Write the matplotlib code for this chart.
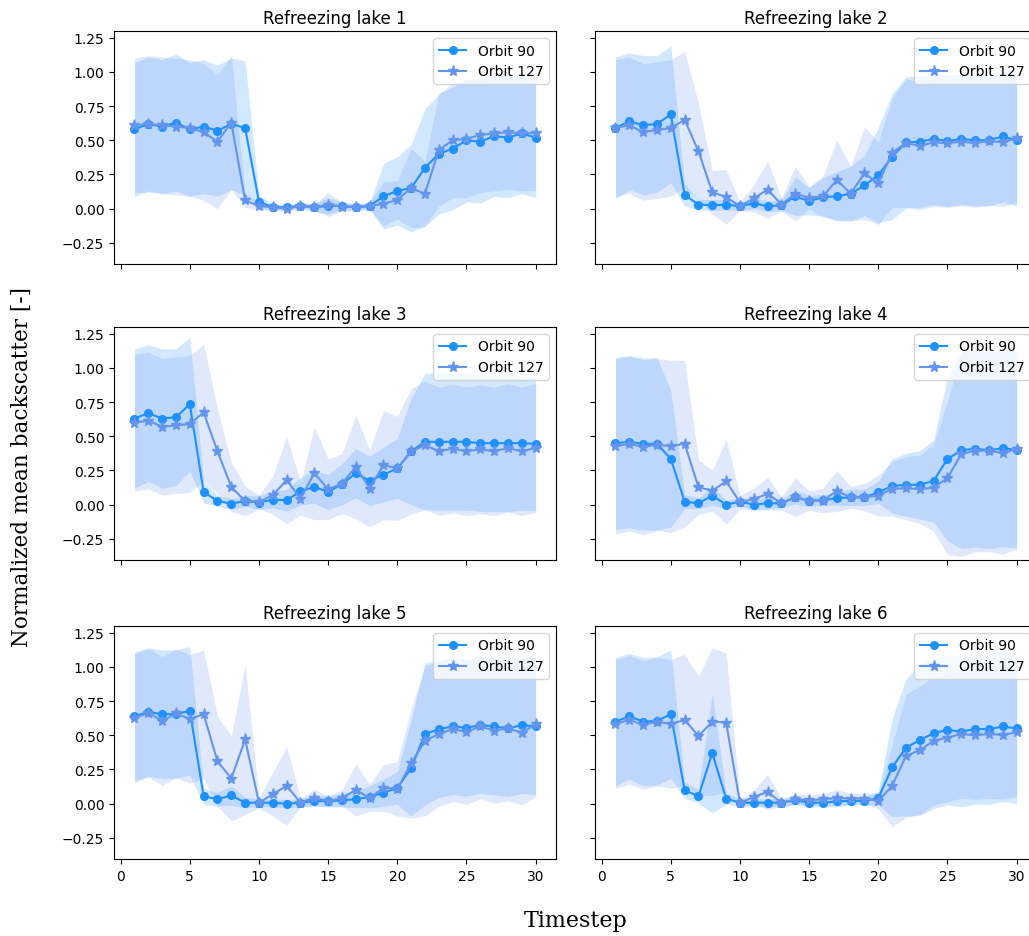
import matplotlib
matplotlib.use("Agg")
import matplotlib.pyplot as plt
import numpy as np

timesteps = list(range(1, 31))
titles = ["Refreezing lake 1", "Refreezing lake 2", "Refreezing lake 3",
          "Refreezing lake 4", "Refreezing lake 5", "Refreezing lake 6"]
series_labels = ["Orbit 90", "Orbit 127"]

# Lake 1
m90_1 = [0.58,0.62,0.60,0.63,0.58,0.60,0.57,0.62,0.59,0.05,0.01,0.01,0.02,0.01,0.02,0.02,0.01,0.02,0.09,0.13,0.15,0.30,0.40,0.44,0.50,0.49,0.53,0.52,0.55,0.52]
s90_1 = [0.49,0.49,0.49,0.50,0.49,0.49,0.48,0.48,0.49,0.05,0.02,0.02,0.02,0.03,0.06,0.03,0.02,0.02,0.24,0.25,0.32,0.43,0.44,0.45,0.45,0.45,0.44,0.44,0.44,0.44]
m127_1 = [0.61,0.62,0.61,0.60,0.59,0.56,0.49,0.63,0.06,0.02,0.01,0.00,0.02,0.01,0.03,0.015,0.01,0.02,0.035,0.065,0.15,0.11,0.43,0.50,0.51,0.54,0.55,0.56,0.55,0.555]
s127_1 = [0.49,0.50,0.50,0.50,0.50,0.50,0.49,0.49,0.05,0.03,0.02,0.02,0.02,0.02,0.09,0.03,0.03,0.03,0.16,0.14,0.29,0.24,0.41,0.42,0.43,0.42,0.42,0.42,0.42,0.42]

# Lake 2
m90_2 = [0.59,0.64,0.61,0.62,0.69,0.10,0.03,0.025,0.03,0.017,0.04,0.017,0.025,0.09,0.055,0.085,0.09,0.11,0.17,0.245,0.38,0.485,0.49,0.51,0.495,0.51,0.50,0.50,0.53,0.50]
s90_2 = [0.52,0.50,0.51,0.50,0.50,0.08,0.04,0.04,0.04,0.03,0.04,0.04,0.04,0.14,0.10,0.14,0.18,0.20,0.22,0.35,0.46,0.48,0.48,0.48,0.48,0.48,0.48,0.48,0.48,0.48]
m127_2 = [0.59,0.61,0.56,0.575,0.59,0.65,0.42,0.12,0.085,0.017,0.075,0.14,0.03,0.11,0.08,0.09,0.21,0.11,0.26,0.185,0.41,0.48,0.46,0.485,0.48,0.49,0.48,0.495,0.485,0.515]
s127_2 = [0.50,0.50,0.50,0.50,0.50,0.50,0.35,0.16,0.20,0.03,0.10,0.21,0.05,0.20,0.08,0.15,0.29,0.20,0.34,0.30,0.40,0.47,0.47,0.47,0.47,0.47,0.47,0.47,0.47,0.47]

# Lake 3
m90_3 = [0.63,0.67,0.63,0.64,0.735,0.093,0.027,0.007,0.027,0.015,0.037,0.032,0.098,0.13,0.093,0.15,0.23,0.174,0.22,0.265,0.39,0.46,0.46,0.46,0.46,0.45,0.45,0.45,0.45,0.445]
s90_3 = [0.51,0.50,0.51,0.50,0.49,0.08,0.04,0.04,0.04,0.05,0.06,0.08,0.10,0.12,0.13,0.15,0.18,0.18,0.20,0.22,0.39,0.50,0.50,0.50,0.50,0.50,0.50,0.50,0.49,0.49]
m127_3 = [0.60,0.615,0.57,0.58,0.59,0.675,0.39,0.13,0.027,0.02,0.07,0.18,0.044,0.23,0.113,0.154,0.277,0.118,0.29,0.265,0.39,0.436,0.39,0.41,0.39,0.405,0.39,0.415,0.39,0.415]
s127_3 = [0.50,0.50,0.50,0.50,0.50,0.50,0.31,0.18,0.11,0.05,0.14,0.32,0.12,0.34,0.22,0.22,0.38,0.28,0.40,0.38,0.46,0.47,0.47,0.47,0.47,0.47,0.47,0.47,0.47,0.47]

# Lake 4
m90_4 = [0.45,0.46,0.445,0.445,0.335,0.022,0.01,0.066,0.0,0.022,0.0,0.01,0.01,0.054,0.027,0.034,0.047,0.054,0.054,0.09,0.137,0.145,0.145,0.174,0.335,0.397,0.41,0.397,0.414,0.40]
s90_4 = [0.63,0.63,0.63,0.63,0.50,0.05,0.04,0.07,0.03,0.03,0.04,0.04,0.03,0.05,0.04,0.04,0.05,0.06,0.06,0.08,0.20,0.23,0.25,0.30,0.60,0.72,0.72,0.72,0.72,0.72]
m127_4 = [0.426,0.446,0.42,0.44,0.426,0.446,0.127,0.103,0.17,0.017,0.042,0.078,0.01,0.054,0.03,0.03,0.10,0.054,0.054,0.066,0.115,0.12,0.113,0.125,0.194,0.37,0.395,0.395,0.377,0.407]
s127_4 = [0.64,0.64,0.64,0.63,0.63,0.61,0.20,0.15,0.31,0.05,0.08,0.12,0.05,0.14,0.07,0.09,0.15,0.08,0.10,0.15,0.20,0.23,0.25,0.32,0.56,0.75,0.74,0.74,0.74,0.73]

# Lake 5
m90_5 = [0.64,0.67,0.655,0.655,0.68,0.054,0.032,0.06,0.007,0.007,0.007,0.0,0.007,0.02,0.017,0.025,0.032,0.05,0.08,0.115,0.26,0.51,0.545,0.565,0.555,0.575,0.565,0.55,0.575,0.565]
s90_5 = [0.47,0.47,0.47,0.47,0.47,0.06,0.05,0.07,0.04,0.03,0.03,0.03,0.03,0.04,0.04,0.05,0.06,0.08,0.10,0.12,0.35,0.52,0.50,0.50,0.50,0.50,0.50,0.50,0.50,0.50]
m127_5 = [0.625,0.665,0.605,0.66,0.62,0.655,0.31,0.184,0.47,0.007,0.07,0.13,0.007,0.045,0.017,0.042,0.10,0.042,0.115,0.11,0.294,0.46,0.51,0.545,0.525,0.565,0.535,0.55,0.52,0.58]
s127_5 = [0.47,0.47,0.47,0.47,0.47,0.47,0.33,0.31,0.55,0.04,0.16,0.29,0.03,0.06,0.04,0.06,0.19,0.10,0.17,0.20,0.40,0.55,0.53,0.53,0.53,0.53,0.53,0.53,0.53,0.53]

# Lake 6
m90_6 = [0.60,0.64,0.60,0.605,0.655,0.098,0.054,0.37,0.037,0.007,0.007,0.007,0.007,0.025,0.007,0.007,0.017,0.02,0.02,0.04,0.265,0.41,0.465,0.515,0.54,0.527,0.547,0.545,0.565,0.55]
s90_6 = [0.47,0.46,0.47,0.47,0.47,0.06,0.05,0.44,0.04,0.03,0.03,0.03,0.03,0.03,0.03,0.03,0.04,0.03,0.03,0.05,0.36,0.50,0.55,0.55,0.55,0.55,0.55,0.55,0.55,0.55]
m127_6 = [0.583,0.613,0.576,0.60,0.583,0.613,0.495,0.60,0.593,0.005,0.05,0.086,0.007,0.032,0.025,0.032,0.042,0.037,0.037,0.02,0.13,0.35,0.39,0.46,0.483,0.51,0.50,0.51,0.503,0.522]
s127_6 = [0.47,0.47,0.47,0.47,0.47,0.48,0.44,0.54,0.51,0.03,0.05,0.13,0.03,0.04,0.04,0.04,0.06,0.04,0.04,0.06,0.30,0.45,0.47,0.47,0.47,0.47,0.47,0.47,0.47,0.47]

lakes = [
    (m90_1, s90_1, m127_1, s127_1),
    (m90_2, s90_2, m127_2, s127_2),
    (m90_3, s90_3, m127_3, s127_3),
    (m90_4, s90_4, m127_4, s127_4),
    (m90_5, s90_5, m127_5, s127_5),
    (m90_6, s90_6, m127_6, s127_6),
]

c90 = "#1E90FF"
c127 = "#6495ED"

fig = plt.figure(figsize=(10.29, 9.37), dpi=100)
W, H = 1029.0, 937.0
lefts = [114, 595]
tops = [32, 328, 627]
aw, ah = 441.7, 233.0

axes = []
for i in range(6):
    r, c = divmod(i, 2)
    rect = [lefts[c] / W, 1 - (tops[r] + ah) / H, aw / W, ah / H]
    ax = fig.add_axes(rect)
    axes.append(ax)

x = np.array(timesteps)
for i, ax in enumerate(axes):
    m90, s90, m127, s127 = [np.array(v) for v in lakes[i]]
    ax.plot(x, m90, marker="o", color=c90, markersize=5.5, linewidth=1.5, label=series_labels[0])
    ax.fill_between(x, m90 - s90, m90 + s90, color=c90, alpha=0.2, linewidth=0)
    ax.plot(x, m127, marker="*", color=c127, markersize=8, linewidth=1.5, label=series_labels[1])
    ax.fill_between(x, m127 - s127, m127 + s127, color=c127, alpha=0.2, linewidth=0)
    ax.set_title(titles[i], fontsize=12)
    ax.set_xlim(-0.48, 31.45)
    ax.set_ylim(-0.405, 1.30)
    ax.set_xticks([0, 5, 10, 15, 20, 25, 30])
    ax.set_yticks([-0.25, 0.0, 0.25, 0.5, 0.75, 1.0, 1.25])
    ax.tick_params(labelsize=10)
    r, c = divmod(i, 2)
    if r < 2:
        ax.tick_params(labelbottom=False)
    if c == 1:
        ax.tick_params(labelleft=False)
    ax.legend(loc="upper right", fontsize=10)

fig.text(576 / W, 1 - 921 / H, "Timestep", ha="center", va="center",
         fontsize=16, family="DejaVu Serif")
fig.text(22 / W, 1 - 467 / H, "Normalized mean backscatter [-]", ha="center", va="center",
         rotation=90, fontsize=15.5, family="DejaVu Serif")

fig.savefig("out.png", dpi=100)
